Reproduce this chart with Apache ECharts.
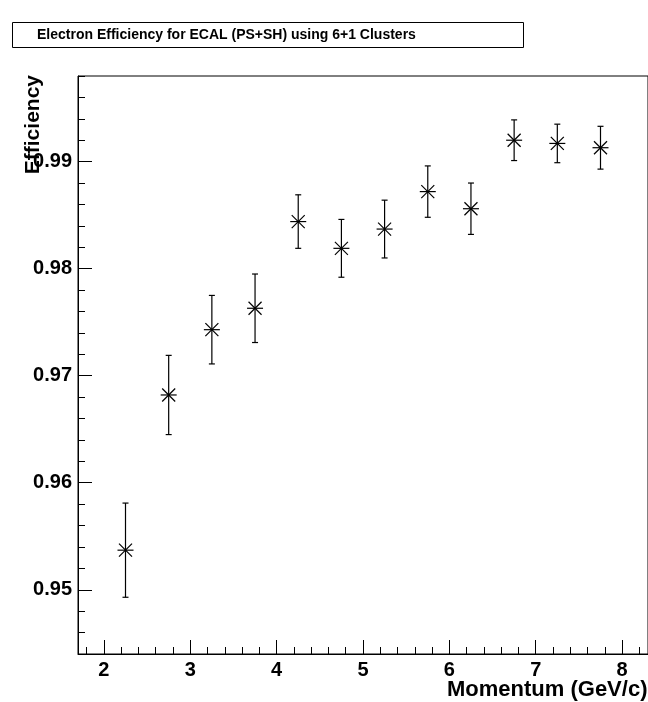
<!DOCTYPE html>
<html>
<head>
<meta charset="utf-8">
<script src="https://cdn.jsdelivr.net/npm/echarts@6/dist/echarts.min.js"></script>
<style>html,body{margin:0;padding:0;background:#fff}#main{width:648px;height:702px}</style>
</head>
<body>
<div id="main"></div>
<script>
var momentum = [2.25, 2.75, 3.25, 3.75, 4.25, 4.75, 5.25, 5.75, 6.25, 6.75, 7.25, 7.75];
var efficiency = [0.9537, 0.9682, 0.9743, 0.9763, 0.9844, 0.9819, 0.9837, 0.9872, 0.9856, 0.9920, 0.9917, 0.9913];
var errors = [0.0044, 0.0037, 0.0032, 0.0032, 0.0025, 0.0027, 0.0027, 0.0024, 0.0024, 0.0019, 0.0018, 0.0020];
var xMajor = [2, 3, 4, 5, 6, 7, 8];
var yMajor = [0.95, 0.96, 0.97, 0.98, 0.99];

var xMinor = [];
for (var i = 0; i <= 33; i++) xMinor.push(+(1.8 + i * 0.2).toFixed(2));
var yMinor = [];
for (var j = 0; j <= 27; j++) yMinor.push(+(0.944 + j * 0.002).toFixed(3));

var font = '"Liberation Sans", Arial, sans-serif';
var chart = echarts.init(document.getElementById('main'));

function axisBase(type, min, max, major, withLabel) {
  return {
    type: 'value', min: min, max: max, gridIndex: 0,
    position: type === 'y' ? 'left' : 'bottom',
    axisLine: { show: withLabel, lineStyle: { color: '#000', width: 1 } },
    splitLine: { show: false },
    axisTick: { show: true, inside: true, length: withLabel ? 14 : 7, customValues: major, lineStyle: { color: '#000' } },
    axisLabel: withLabel ? {
      show: true, customValues: major, color: '#000', fontFamily: font, fontWeight: 'bold', fontSize: 20,
      margin: 6, formatter: function (v) { return type === 'y' ? v.toFixed(2) : String(v); }
    } : { show: false }
  };
}

var data = momentum.map(function (m, k) { return [m, efficiency[k], errors[k]]; });

chart.setOption({
  animation: false,
  grid: { left: 78, top: 76, width: 581, bottom: 48, show: true, borderColor: '#000', borderWidth: 1, backgroundColor: 'transparent' },
  xAxis: [axisBase('x', 1.7, 8.3, xMajor, true), axisBase('x', 1.7, 8.3, xMinor, false)],
  yAxis: [axisBase('y', 0.944, 0.998, yMajor, true), axisBase('y', 0.944, 0.998, yMinor, false)],
  graphic: [
    { type: 'rect', shape: { x: 12.5, y: 22.5, width: 511, height: 25 }, style: { fill: '#fff', stroke: '#000', lineWidth: 1 } },
    { type: 'text', x: 37, y: 35, style: { text: 'Electron Efficiency for ECAL (PS+SH) using 6+1 Clusters', font: 'bold 14px ' + font, fill: '#000', verticalAlign: 'middle' } },
    { type: 'text', x: 33, y: 75, rotation: Math.PI / 2, style: { text: 'Efficiency', font: 'bold 21px ' + font, fill: '#000', align: 'right', verticalAlign: 'middle' } },
    { type: 'text', x: 447, y: 690, style: { text: 'Momentum (GeV/c)', font: 'bold 22px ' + font, fill: '#000', align: 'left', verticalAlign: 'middle' } }
  ],
  series: [{
    type: 'custom',
    data: data,
    renderItem: function (params, api) {
      var c = api.coord([api.value(0), api.value(1)]);
      var hi = api.coord([api.value(0), api.value(1) + api.value(2)]);
      var lo = api.coord([api.value(0), api.value(1) - api.value(2)]);
      var s = 8, d = 6.5, cap = 3;
      var st = { stroke: '#000', lineWidth: 1.2 };
      var lines = [
        [c[0], hi[1], c[0], lo[1]],
        [c[0] - cap, hi[1], c[0] + cap, hi[1]],
        [c[0] - cap, lo[1], c[0] + cap, lo[1]],
        [c[0] - s, c[1], c[0] + s, c[1]],
        [c[0] - d, c[1] - d, c[0] + d, c[1] + d],
        [c[0] - d, c[1] + d, c[0] + d, c[1] - d]
      ];
      return {
        type: 'group',
        children: lines.map(function (l) {
          return { type: 'line', shape: { x1: l[0], y1: l[1], x2: l[2], y2: l[3] }, style: st };
        })
      };
    }
  }]
});
</script>
</body>
</html>
